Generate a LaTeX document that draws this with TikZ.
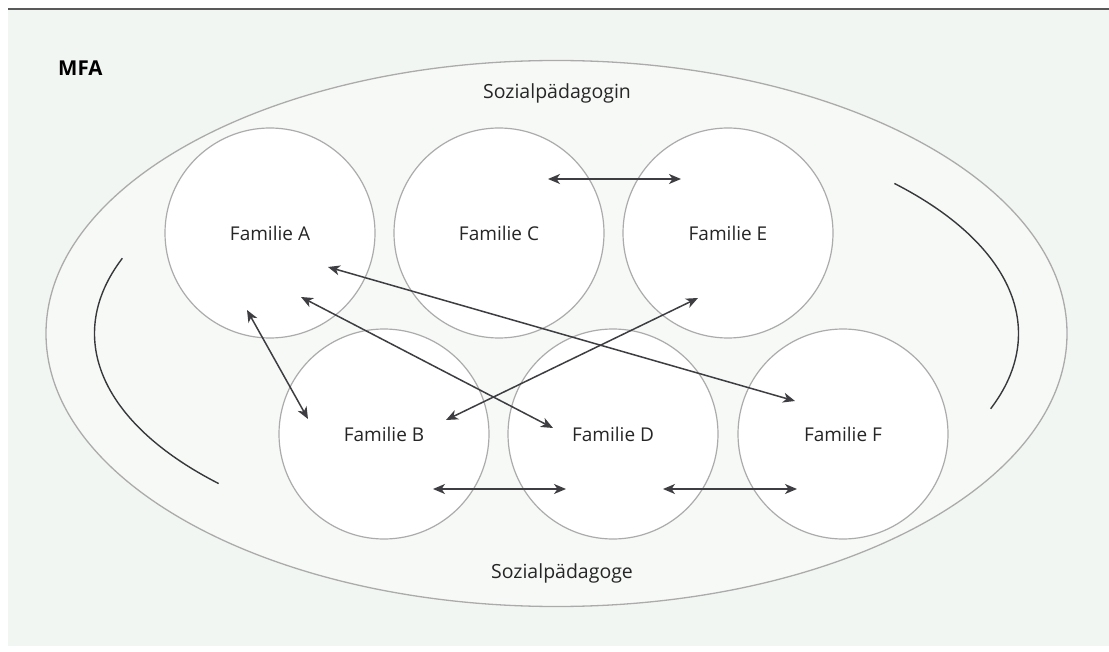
\documentclass[tikz,border=0pt]{standalone}
\usepackage{fontspec}
\setmainfont{Open Sans}
\usetikzlibrary{arrows.meta}
\definecolor{bgc}{HTML}{F2F6F2}
\definecolor{inner}{HTML}{F7F9F7}
\definecolor{rim}{HTML}{ABABAB}
\definecolor{arr}{HTML}{3E3E42}
\definecolor{txt}{HTML}{262626}
\newcommand{\famtxt}[1]{\raisebox{-2.5pt}{#1}}
\tikzset{
  fam/.style={circle, draw=rim, line width=1.2pt, fill=white, minimum size=210pt, inner sep=0pt,
    font=\fontsize{19}{22}\selectfont, text=txt},
  lbl/.style={font=\fontsize{19.5}{22}\selectfont, text=txt, inner sep=0pt},
  link/.style={draw=arr, line width=1.5pt, {Stealth[length=12pt,width=10pt,inset=3.5pt]}-{Stealth[length=12pt,width=10pt,inset=3.5pt]}},
  swing/.style={draw=arr!90!black, line width=1.4pt}
}
\begin{document}
\begin{tikzpicture}[x=1pt,y=-1pt]
\useasboundingbox (0,0) rectangle (1109,652);
\fill[bgc] (8,9) rectangle (1109,646);
\draw[line width=1.5pt, draw=black!65] (8,9) -- (1109,9);
\node[anchor=base west, font=\bfseries\fontsize{20.5}{24}\selectfont, inner sep=0pt] (mfa) at (58,76) {MFA};
\draw[rim, line width=1.3pt, fill=inner] (556.5,333.5) ellipse [x radius=510.5, y radius=273];
\node[lbl] (top) at (557,93) {Sozialpädagogin};
\node[lbl] (bot) at (562,573) {Sozialpädagoge};
% swinging arcs
\draw[swing] (556.5,333.5) ++(160:462 and -220) arc [start angle=160, end angle=223, x radius=462, y radius=-220];
\draw[swing] (556.5,333.5) ++(43:462 and -220) arc [start angle=43, end angle=-20, x radius=462, y radius=-220];
% families
\node[fam] (A) at (270,233) {\famtxt{Familie A}};
\node[fam] (C) at (499,233) {\famtxt{Familie C}};
\node[fam] (E) at (728,233) {\famtxt{Familie E}};
\node[fam] (B) at (384,434) {\famtxt{Familie B}};
\node[fam] (D) at (613,434) {\famtxt{Familie D}};
\node[fam] (F) at (843,434) {\famtxt{Familie F}};
% connector ends
\coordinate (ce1) at (548,179); \coordinate (ce2) at (681,179);
\coordinate (ab1) at (247,310); \coordinate (ab2) at (308,419);
\coordinate (ad1) at (301,297); \coordinate (ad2) at (553,428);
\coordinate (af1) at (328,267); \coordinate (af2) at (795,401);
\coordinate (be1) at (446,420); \coordinate (be2) at (698,298);
\coordinate (bd1) at (433,489); \coordinate (bd2) at (566,489);
\coordinate (df1) at (663,489); \coordinate (df2) at (797,489);
\draw[link] (ce1) -- (ce2);
\draw[link] (ab1) -- (ab2);
\draw[link] (ad1) -- (ad2);
\draw[link] (af1) -- (af2);
\draw[link] (be1) -- (be2);
\draw[link] (bd1) -- (bd2);
\draw[link] (df1) -- (df2);
\end{tikzpicture}
\end{document}
